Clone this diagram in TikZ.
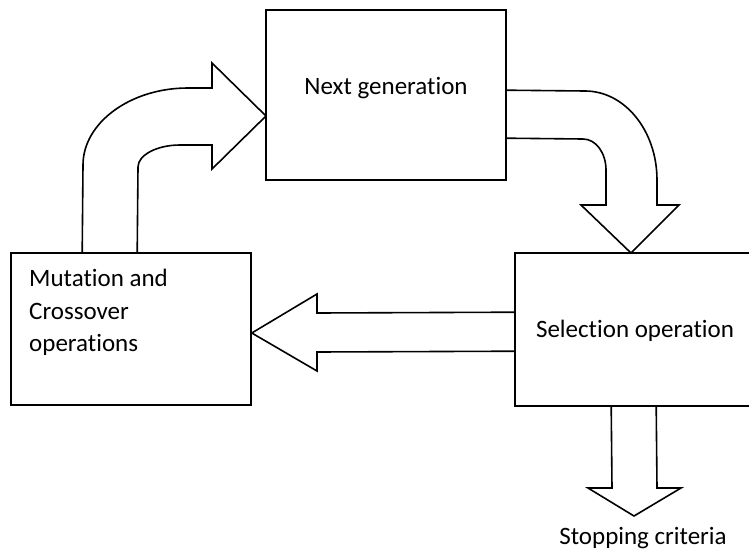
\documentclass[tikz,border=0pt]{standalone}
\usepackage{fontspec}
\setmainfont{Carlito}[Ligatures=NoCommon]
\usetikzlibrary{calc}
\begin{document}
\begin{tikzpicture}[x=1pt,y=-1pt,
  box/.style={draw, line width=1.6pt, rectangle, inner sep=0pt},
  blockarrow/.style={draw, line width=1.6pt, line join=miter},
  lbl/.style={font=\fontsize{25}{33}\selectfont, inner sep=0pt}]
\useasboundingbox (0,0) rectangle (749,549);
\clip (0,0) rectangle (749,549);

% process boxes
\node[box, minimum width=240pt, minimum height=170pt] (next) at (386,95) {};
\node[box, minimum width=240pt, minimum height=152pt] (mut) at (131,329) {};
\node[box, minimum width=260pt, minimum height=153pt] (sel) at (645,329.5) {};

% box texts
\node[lbl, anchor=base] (nexttext) at (386,94) {Next generation};
\node[lbl, anchor=base] (seltext) at (635,337) {Selection operation};
\node[lbl, anchor=base west] (mut1) at (29,286) {Mutation and};
\node[lbl, anchor=base west] (mut2) at (29,319) {Crossover};
\node[lbl, anchor=base west] (mut3) at (29,351) {operations};

% curved block arrow: mutation/crossover -> next generation
\draw[blockarrow] ($(mut.north west)+(72,0)$) -- (83,165)
  .. controls (83,123) and (130,88) .. (188,88) -- (212,88) -- (212,63)
  -- (266,116) -- (212,169) -- (212,145) -- (180,145)
  .. controls (157,145) and (138,155) .. (138,167) -- ($(mut.north west)+(127,0)$);

% curved block arrow: next generation -> selection
\draw[blockarrow] ($(next.north east)+(0,81)$) -- (585,91)
  .. controls (625,91) and (657,131) .. (657,180) -- (657,205) -- (679,205)
  -- (631,253) -- (581,205) -- (606,205) -- (606,170)
  .. controls (606,153) and (596,139) .. (583,139) -- ($(next.north east)+(0,129)$);

% straight block arrow: selection -> mutation/crossover
\draw[blockarrow] ($(sel.north west)+(0,60)$) -- (317,313) -- (317,294)
  -- (mut.east |- 0,333) -- (317,371) -- (317,352) -- ($(sel.north west)+(0,99)$);

% straight block arrow: selection -> stopping criteria
\draw[blockarrow] ($(sel.south west)+(97,0)$) -- (612,488) -- (588,488)
  -- (634,516) -- (681,488) -- (657,488) -- ($(sel.south west)+(142,0)$);

\node[lbl, anchor=base] (stop) at (643,544) {Stopping criteria};
\end{tikzpicture}
\end{document}
